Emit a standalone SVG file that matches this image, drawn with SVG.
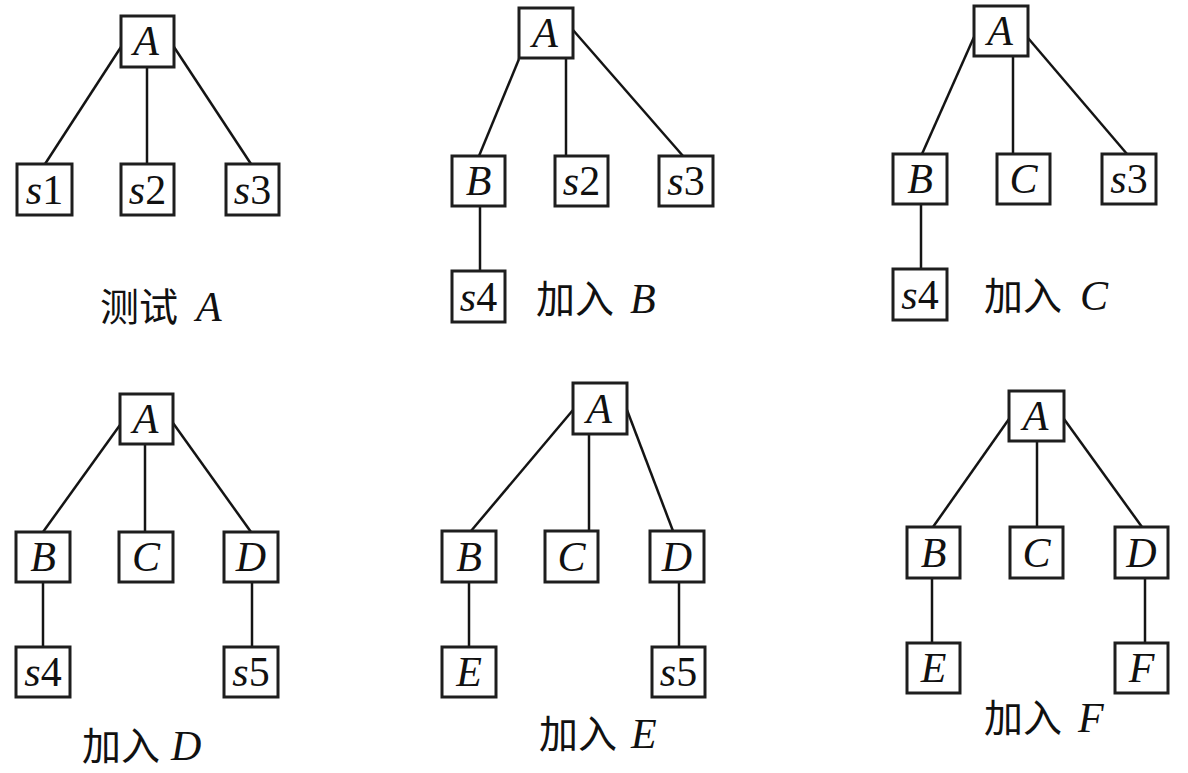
<svg xmlns="http://www.w3.org/2000/svg" width="1188" height="773" viewBox="0 0 1188 773">
<style>
.box{fill:#fff;stroke:#1e1e1e;stroke-width:3}
.t{font-family:"Liberation Serif","Times New Roman",serif;font-size:42px;fill:#111;text-anchor:middle}
.i{font-style:italic}
.cap{font-family:"Noto Sans CJK SC","Noto Sans",sans-serif;font-size:39px;fill:#111}
.capl{font-family:"Liberation Serif","Times New Roman",serif;font-style:italic;font-size:42px;fill:#111}
#connectors line{stroke:#141414;stroke-width:2.5;fill:none}
</style>
<rect width="1188" height="773" fill="#fff"/>
<g id="connectors">
<line x1="121" y1="47" x2="45" y2="164"/>
<line x1="147" y1="67" x2="147" y2="164"/>
<line x1="174" y1="47" x2="251" y2="164"/>
<line x1="519" y1="59" x2="479" y2="156"/>
<line x1="566" y1="58" x2="566" y2="156"/>
<line x1="573" y1="30" x2="683" y2="156"/>
<line x1="480" y1="206" x2="480" y2="271"/>
<line x1="974" y1="37" x2="922" y2="154"/>
<line x1="1013" y1="56" x2="1013" y2="154"/>
<line x1="1028" y1="38" x2="1127" y2="154"/>
<line x1="921" y1="204" x2="921" y2="269"/>
<line x1="120" y1="425" x2="43" y2="532"/>
<line x1="145" y1="444" x2="145" y2="532"/>
<line x1="173" y1="423" x2="251" y2="532"/>
<line x1="43" y1="582" x2="43" y2="647"/>
<line x1="252" y1="582" x2="252" y2="647"/>
<line x1="573" y1="410" x2="471" y2="531"/>
<line x1="589" y1="434" x2="589" y2="531"/>
<line x1="627" y1="410" x2="673" y2="531"/>
<line x1="469" y1="582" x2="469" y2="647"/>
<line x1="679" y1="582" x2="679" y2="647"/>
<line x1="1009" y1="419" x2="933" y2="527"/>
<line x1="1037" y1="441" x2="1037" y2="527"/>
<line x1="1064" y1="419" x2="1142" y2="527"/>
<line x1="932" y1="578" x2="932" y2="643"/>
<line x1="1145" y1="578" x2="1145" y2="643"/>
</g>
<!-- Panel 1 -->
<g id="p1-A"><rect class="box" x="121" y="16" width="53" height="51"/><text class="t i" x="146" y="55">A</text></g>
<g id="p1-s1"><rect class="box" x="17" y="164" width="55" height="51"/><text class="t" x="44.5" y="204"><tspan class="i">s</tspan>1</text></g>
<g id="p1-s2"><rect class="box" x="121" y="164" width="53" height="51"/><text class="t" x="147.5" y="204"><tspan class="i">s</tspan>2</text></g>
<g id="p1-s3"><rect class="box" x="226" y="164" width="53" height="51"/><text class="t" x="252.5" y="204"><tspan class="i">s</tspan>3</text></g>
<g id="p1-label"><text x="100" y="321"><tspan class="cap">测试</tspan><tspan class="capl" x="196">A</tspan></text></g>
<!-- Panel 2 -->
<g id="p2-A"><rect class="box" x="519" y="8" width="54" height="50"/><text class="t i" x="545" y="47">A</text></g>
<g id="p2-B"><rect class="box" x="452" y="156" width="53" height="50"/><text class="t i" x="478.5" y="195">B</text></g>
<g id="p2-s2"><rect class="box" x="555" y="156" width="53" height="50"/><text class="t" x="581.5" y="195"><tspan class="i">s</tspan>2</text></g>
<g id="p2-s3"><rect class="box" x="659" y="156" width="54" height="50"/><text class="t" x="686" y="195"><tspan class="i">s</tspan>3</text></g>
<g id="p2-s4"><rect class="box" x="452" y="271" width="53" height="51"/><text class="t" x="478.5" y="311"><tspan class="i">s</tspan>4</text></g>
<g id="p2-label"><text x="536" y="313"><tspan class="cap">加入</tspan><tspan class="capl" x="630">B</tspan></text></g>
<!-- Panel 3 -->
<g id="p3-A"><rect class="box" x="974" y="6" width="54" height="50"/><text class="t i" x="1000" y="45">A</text></g>
<g id="p3-B"><rect class="box" x="893" y="154" width="54" height="50"/><text class="t i" x="920" y="193">B</text></g>
<g id="p3-C"><rect class="box" x="997" y="154" width="53" height="50"/><text class="t i" x="1023.5" y="193">C</text></g>
<g id="p3-s3"><rect class="box" x="1102" y="154" width="54" height="50"/><text class="t" x="1129" y="193"><tspan class="i">s</tspan>3</text></g>
<g id="p3-s4"><rect class="box" x="893" y="269" width="54" height="51"/><text class="t" x="920" y="309"><tspan class="i">s</tspan>4</text></g>
<g id="p3-label"><text x="984" y="310"><tspan class="cap">加入</tspan><tspan class="capl" x="1080">C</tspan></text></g>
<!-- Panel 4 -->
<g id="p4-A"><rect class="box" x="120" y="394" width="53" height="50"/><text class="t i" x="145.5" y="433">A</text></g>
<g id="p4-B"><rect class="box" x="16" y="532" width="54" height="50"/><text class="t i" x="43" y="571">B</text></g>
<g id="p4-C"><rect class="box" x="119" y="532" width="54" height="50"/><text class="t i" x="146" y="571">C</text></g>
<g id="p4-D"><rect class="box" x="224" y="532" width="54" height="50"/><text class="t i" x="251" y="571">D</text></g>
<g id="p4-s4"><rect class="box" x="16" y="647" width="54" height="50"/><text class="t" x="43" y="686"><tspan class="i">s</tspan>4</text></g>
<g id="p4-s5"><rect class="box" x="224" y="647" width="54" height="50"/><text class="t" x="251" y="686"><tspan class="i">s</tspan>5</text></g>
<g id="p4-label"><text x="82" y="760"><tspan class="cap">加入</tspan><tspan class="capl" x="171">D</tspan></text></g>
<!-- Panel 5 -->
<g id="p5-A"><rect class="box" x="573" y="383" width="54" height="51"/><text class="t i" x="599" y="423">A</text></g>
<g id="p5-B"><rect class="box" x="442" y="531" width="54" height="51"/><text class="t i" x="469" y="571">B</text></g>
<g id="p5-C"><rect class="box" x="545" y="531" width="53" height="51"/><text class="t i" x="571.5" y="571">C</text></g>
<g id="p5-D"><rect class="box" x="650" y="531" width="54" height="51"/><text class="t i" x="677" y="571">D</text></g>
<g id="p5-E"><rect class="box" x="442" y="647" width="54" height="50"/><text class="t i" x="469" y="686">E</text></g>
<g id="p5-s5"><rect class="box" x="652" y="647" width="53" height="50"/><text class="t" x="678.5" y="686"><tspan class="i">s</tspan>5</text></g>
<g id="p5-label"><text x="539" y="748"><tspan class="cap">加入</tspan><tspan class="capl" x="631">E</tspan></text></g>
<!-- Panel 6 -->
<g id="p6-A"><rect class="box" x="1009" y="391" width="55" height="50"/><text class="t i" x="1035.5" y="430">A</text></g>
<g id="p6-B"><rect class="box" x="907" y="527" width="53" height="51"/><text class="t i" x="933.5" y="567">B</text></g>
<g id="p6-C"><rect class="box" x="1010" y="527" width="53" height="51"/><text class="t i" x="1036.5" y="567">C</text></g>
<g id="p6-D"><rect class="box" x="1115" y="527" width="53" height="51"/><text class="t i" x="1141.5" y="567">D</text></g>
<g id="p6-E"><rect class="box" x="907" y="643" width="53" height="50"/><text class="t i" x="933.5" y="682">E</text></g>
<g id="p6-F"><rect class="box" x="1115" y="643" width="53" height="50"/><text class="t i" x="1141.5" y="682">F</text></g>
<g id="p6-label"><text x="984" y="732"><tspan class="cap">加入</tspan><tspan class="capl" x="1078">F</tspan></text></g>
</svg>
